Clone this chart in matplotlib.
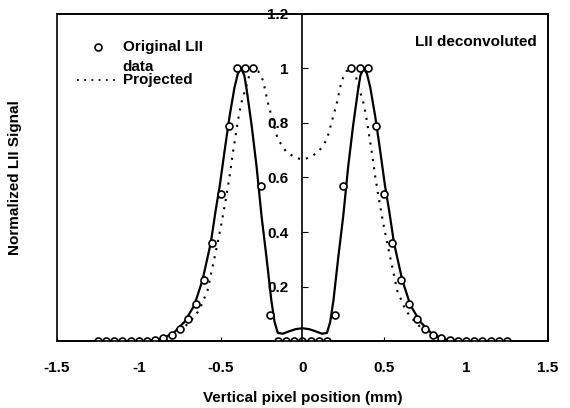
import numpy as np
import matplotlib
matplotlib.use('Agg')
import matplotlib.pyplot as plt

plt.rcParams['font.family'] = ['Liberation Sans', 'DejaVu Sans']
plt.rcParams['font.weight'] = 'bold'
plt.rcParams['axes.labelweight'] = 'bold'
plt.rcParams['font.size'] = 11

# original LII data (circles), every 0.05 mm
x_data = np.round(np.arange(-1.25, 1.2501, 0.05), 2)
y_data = [0, 0, 0, 0, 0, 0, 0, 0.005, 0.013, 0.022, 0.043, 0.08, 0.135, 0.225,
          0.36, 0.54, 0.79, 1.0, 1.0, 1.0, 0.57, 0.095, 0, 0, 0,
          0,
          0, 0, 0, 0.095, 0.57, 1.0, 1.0, 1.0, 0.79, 0.54, 0.36, 0.225, 0.135,
          0.08, 0.043, 0.022, 0.013, 0.005, 0, 0, 0, 0, 0, 0, 0]

# deconvoluted LII (solid line)
x_dec = [-1.25, -0.95, -0.87, -0.79, -0.72, -0.66, -0.61, -0.56, -0.53, -0.505,
         -0.475, -0.445, -0.415, -0.395, -0.375, -0.355, -0.34, -0.31, -0.28,
         -0.25, -0.22, -0.19, -0.17, -0.15, -0.12, -0.08, -0.04, 0.0,
         0.04, 0.08, 0.12, 0.15, 0.17, 0.19, 0.22, 0.25, 0.28, 0.31, 0.34,
         0.355, 0.375, 0.395, 0.415, 0.445, 0.475, 0.505, 0.53, 0.56, 0.61,
         0.66, 0.72, 0.79, 0.87, 0.95, 1.25]
y_dec = [0, 0, 0.006, 0.028, 0.071, 0.132, 0.225, 0.36, 0.48, 0.57,
         0.70, 0.825, 0.93, 0.98, 1.0, 0.975, 0.92, 0.79, 0.64,
         0.46, 0.31, 0.15, 0.07, 0.03, 0.027, 0.036, 0.044, 0.047,
         0.044, 0.036, 0.027, 0.03, 0.07, 0.15, 0.31, 0.46, 0.64, 0.79, 0.92,
         0.975, 1.0, 0.98, 0.93, 0.825, 0.70, 0.57, 0.48, 0.36, 0.225,
         0.132, 0.071, 0.028, 0.006, 0, 0]

# projected (dotted line)
x_proj = [-1.25, -0.95, -0.85, -0.78, -0.72, -0.67, -0.63, -0.58, -0.55, -0.52,
          -0.495, -0.465, -0.445, -0.425, -0.395, -0.375, -0.345, -0.32, -0.30,
          -0.27, -0.24, -0.21, -0.18, -0.15, -0.10, -0.05, 0.0,
          0.05, 0.10, 0.15, 0.18, 0.21, 0.24, 0.27, 0.30, 0.32, 0.345, 0.375,
          0.395, 0.425, 0.445, 0.465, 0.495, 0.52, 0.55, 0.58, 0.63, 0.67,
          0.72, 0.78, 0.85, 0.95, 1.25]
y_proj = [0, 0, 0.01, 0.025, 0.052, 0.083, 0.114, 0.185, 0.27, 0.355,
          0.43, 0.53, 0.605, 0.69, 0.805, 0.87, 0.93, 0.985, 1.0,
          0.99, 0.955, 0.872, 0.805, 0.74, 0.695, 0.675, 0.665,
          0.675, 0.695, 0.74, 0.805, 0.872, 0.955, 0.99, 1.0, 0.985, 0.93, 0.87,
          0.805, 0.69, 0.605, 0.53, 0.43, 0.355, 0.27, 0.185, 0.114, 0.083,
          0.052, 0.025, 0.01, 0, 0]

xticks = [-1.5, -1, -0.5, 0, 0.5, 1, 1.5]
xticklabels = ['-1.5', '-1', '-0.5', '0', '0.5', '1', '1.5']
yticks = [0.2, 0.4, 0.6, 0.8, 1, 1.2]
yticklabels = ['0.2', '0.4', '0.6', '0.8', '1', '1.2']

fig = plt.figure(figsize=(5.7, 4.08), dpi=100)
ax = fig.add_axes([0.1, 0.164, 0.861, 0.802])

ax.plot(x_proj, y_proj, color='black', lw=1.5, linestyle=(0, (1, 3)))
ax.plot(x_dec, y_dec, color='black', lw=1.6)
ax.plot(x_data, y_data, 'o', ms=5, mfc='white', mec='black', mew=1.2)

ax.set_xlim(-1.5, 1.5)
ax.set_ylim(0, 1.2)

# frame around the plot, y axis through x = 0
ax.patch.set_edgecolor('black')
ax.patch.set_linewidth(1.2)
ax.spines['left'].set_position(('data', 0))
for s in ['top', 'right', 'bottom', 'left']:
    ax.spines[s].set_linewidth(1.2)

ax.set_xticks(xticks)
ax.set_xticklabels(xticklabels)
ax.set_yticks(yticks)
ax.set_yticklabels(yticklabels)
ax.tick_params(axis='x', direction='in', length=3, pad=14)
ax.tick_params(axis='y', direction='in', length=4, pad=10)

ax.set_xlabel('Vertical pixel position (mm)', labelpad=12)
ax.set_ylabel('Normalized LII Signal')
ax.yaxis.set_label_coords(-0.071, 0.5)

# legend drawn by hand, as in the original
ax.plot([0.0835], [0.899], 'o', ms=5, mfc='white', mec='black', mew=1.2,
        transform=ax.transAxes)
ax.text(0.134, 0.899, 'Original LII', transform=ax.transAxes, va='center')
ax.text(0.134, 0.838, 'data', transform=ax.transAxes, va='center')
ax.plot([0.041, 0.128], [0.798, 0.798], color='black', lw=1.3,
        linestyle=(0, (1, 3)), transform=ax.transAxes)
ax.text(0.134, 0.798, 'Projected', transform=ax.transAxes, va='center')

ax.text(0.978, 0.914, 'LII deconvoluted', transform=ax.transAxes,
        ha='right', va='center')

fig.savefig('out.png', dpi=100)
